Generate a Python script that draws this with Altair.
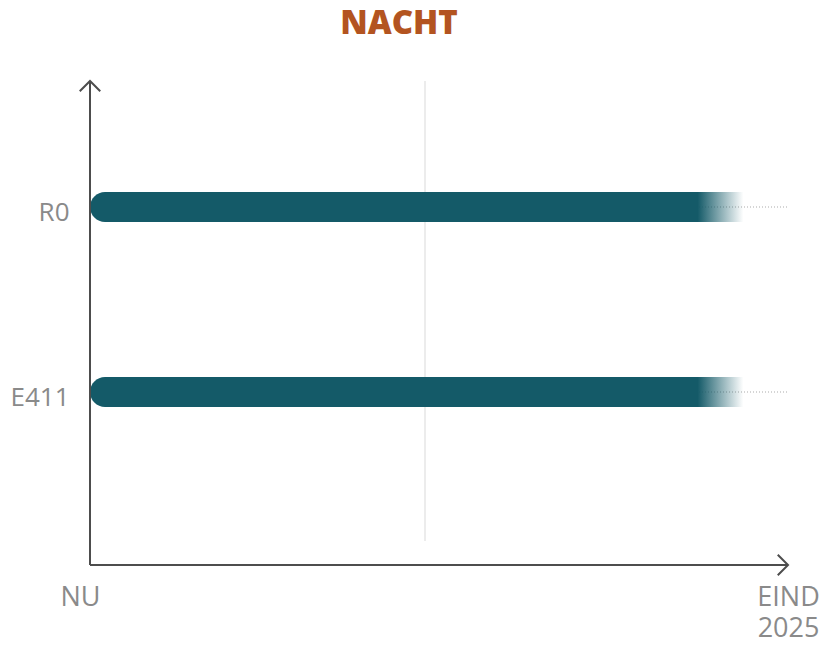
import altair as alt
import pandas as pd

# ---- data ----
categories = ["R0", "E411"]
bar_end = [93.6, 93.6]          # progress (0 = NU, 100 = EIND 2025)
x_ticks = [0, 100]
x_tick_labels = ["NU", "EIND 2025"]
mid_marker = [48]

W, H = 698, 484
TEAL = "#145a68"
AXIS = "#4d4d4d"
LABEL = "#8a8a8a"

bars_df = pd.DataFrame({"cat": categories, "end": bar_end, "start": [0] * len(categories)})
guide_df = pd.DataFrame({"cat": categories, "a": [0] * len(categories), "b": [100] * len(categories)})
mid_df = pd.DataFrame({"x": mid_marker})

xscale = alt.Scale(domain=[0, 100], nice=False, zero=False)
yscale = alt.Scale(type="point", domain=categories, range=[126, 311], padding=0)

x_axis = alt.Axis(
    values=x_ticks,
    labelExpr="datum.value == 0 ? 'NU' : ['EIND', '2025']",
    domain=False, ticks=False, grid=False, title=None,
    labelFont="Open Sans", labelFontSize=27, labelFontWeight=400,
    labelColor=LABEL, labelBaseline="top", labelPadding=19,
    labelLineHeight=31, labelFlush=False,
    labelOffset={"condition": {"test": "datum.value == 0", "value": -10}, "value": 0},
)
y_axis = alt.Axis(
    domain=False, ticks=False, grid=False, title=None,
    labelFont="Open Sans", labelFontSize=26, labelFontWeight=400,
    labelColor=LABEL, labelPadding=21, labelOffset=5,
)

# faint middle gridline
mid = alt.Chart(mid_df).mark_rule(color="#ececec", strokeWidth=2).encode(
    x=alt.X("x:Q", scale=xscale, axis=x_axis),
    y=alt.value(0), y2=alt.value(460),
)

# dotted continuation lines
dots = alt.Chart(guide_df).mark_rule(color="#c8c8c8", strokeDash=[1, 2], strokeWidth=1.5).encode(
    x=alt.X("a:Q", scale=xscale),
    x2="b:Q",
    y=alt.Y("cat:N", scale=yscale, axis=y_axis),
)

grad = alt.LinearGradient(
    gradient="linear",
    stops=[
        alt.GradientStop(color=TEAL, offset=0),
        alt.GradientStop(color=TEAL, offset=0.93),
        alt.GradientStop(color="rgba(20,90,104,0)", offset=1),
    ],
    x1=0, x2=1, y1=0, y2=0,
)

bars = alt.Chart(bars_df).mark_bar(
    color=grad, size=30, cornerRadiusTopLeft=15, cornerRadiusBottomLeft=15
).encode(
    x=alt.X("start:Q", scale=xscale),
    x2="end:Q",
    y=alt.Y("cat:N", scale=yscale),
)

# axis lines with arrow heads
axis_df = pd.DataFrame({"x": [0]})
y_line = alt.Chart(axis_df).mark_rule(color=AXIS, strokeWidth=2).encode(
    x=alt.X("x:Q", scale=xscale), y=alt.value(0), y2=alt.value(H)
)
x_line = alt.Chart(pd.DataFrame({"a": [0], "b": [100]})).mark_rule(color=AXIS, strokeWidth=2).encode(
    x=alt.X("a:Q", scale=xscale), x2="b:Q", y=alt.value(H)
)
x_arrow = alt.Chart(pd.DataFrame({"x": [100]})).mark_point(
    shape="M-1,-1L0,0L-1,1", size=420, filled=False, stroke=AXIS, strokeWidth=2, opacity=1
).encode(x=alt.X("x:Q", scale=xscale), y=alt.value(H))
y_arrow = alt.Chart(axis_df).mark_point(
    shape="M-1,1L0,0L1,1", size=420, filled=False, stroke=AXIS, strokeWidth=2, opacity=1
).encode(x=alt.X("x:Q", scale=xscale), y=alt.value(0))

chart = alt.layer(mid, dots, bars, y_line, x_line, x_arrow, y_arrow).properties(
    width=W, height=H,
    title=alt.TitleParams(
        "NACHT", font="Open Sans", fontSize=33, fontWeight=800, color="#b35420",
        anchor="middle", dx=-40, offset=36,
    ),
    autosize=alt.AutoSizeParams(type="none"),
    padding={"left": 82, "top": 73, "right": 40, "bottom": 76},
).configure_view(stroke=None)

chart.save("out.html", embed_options={"renderer": "svg", "actions": False})
